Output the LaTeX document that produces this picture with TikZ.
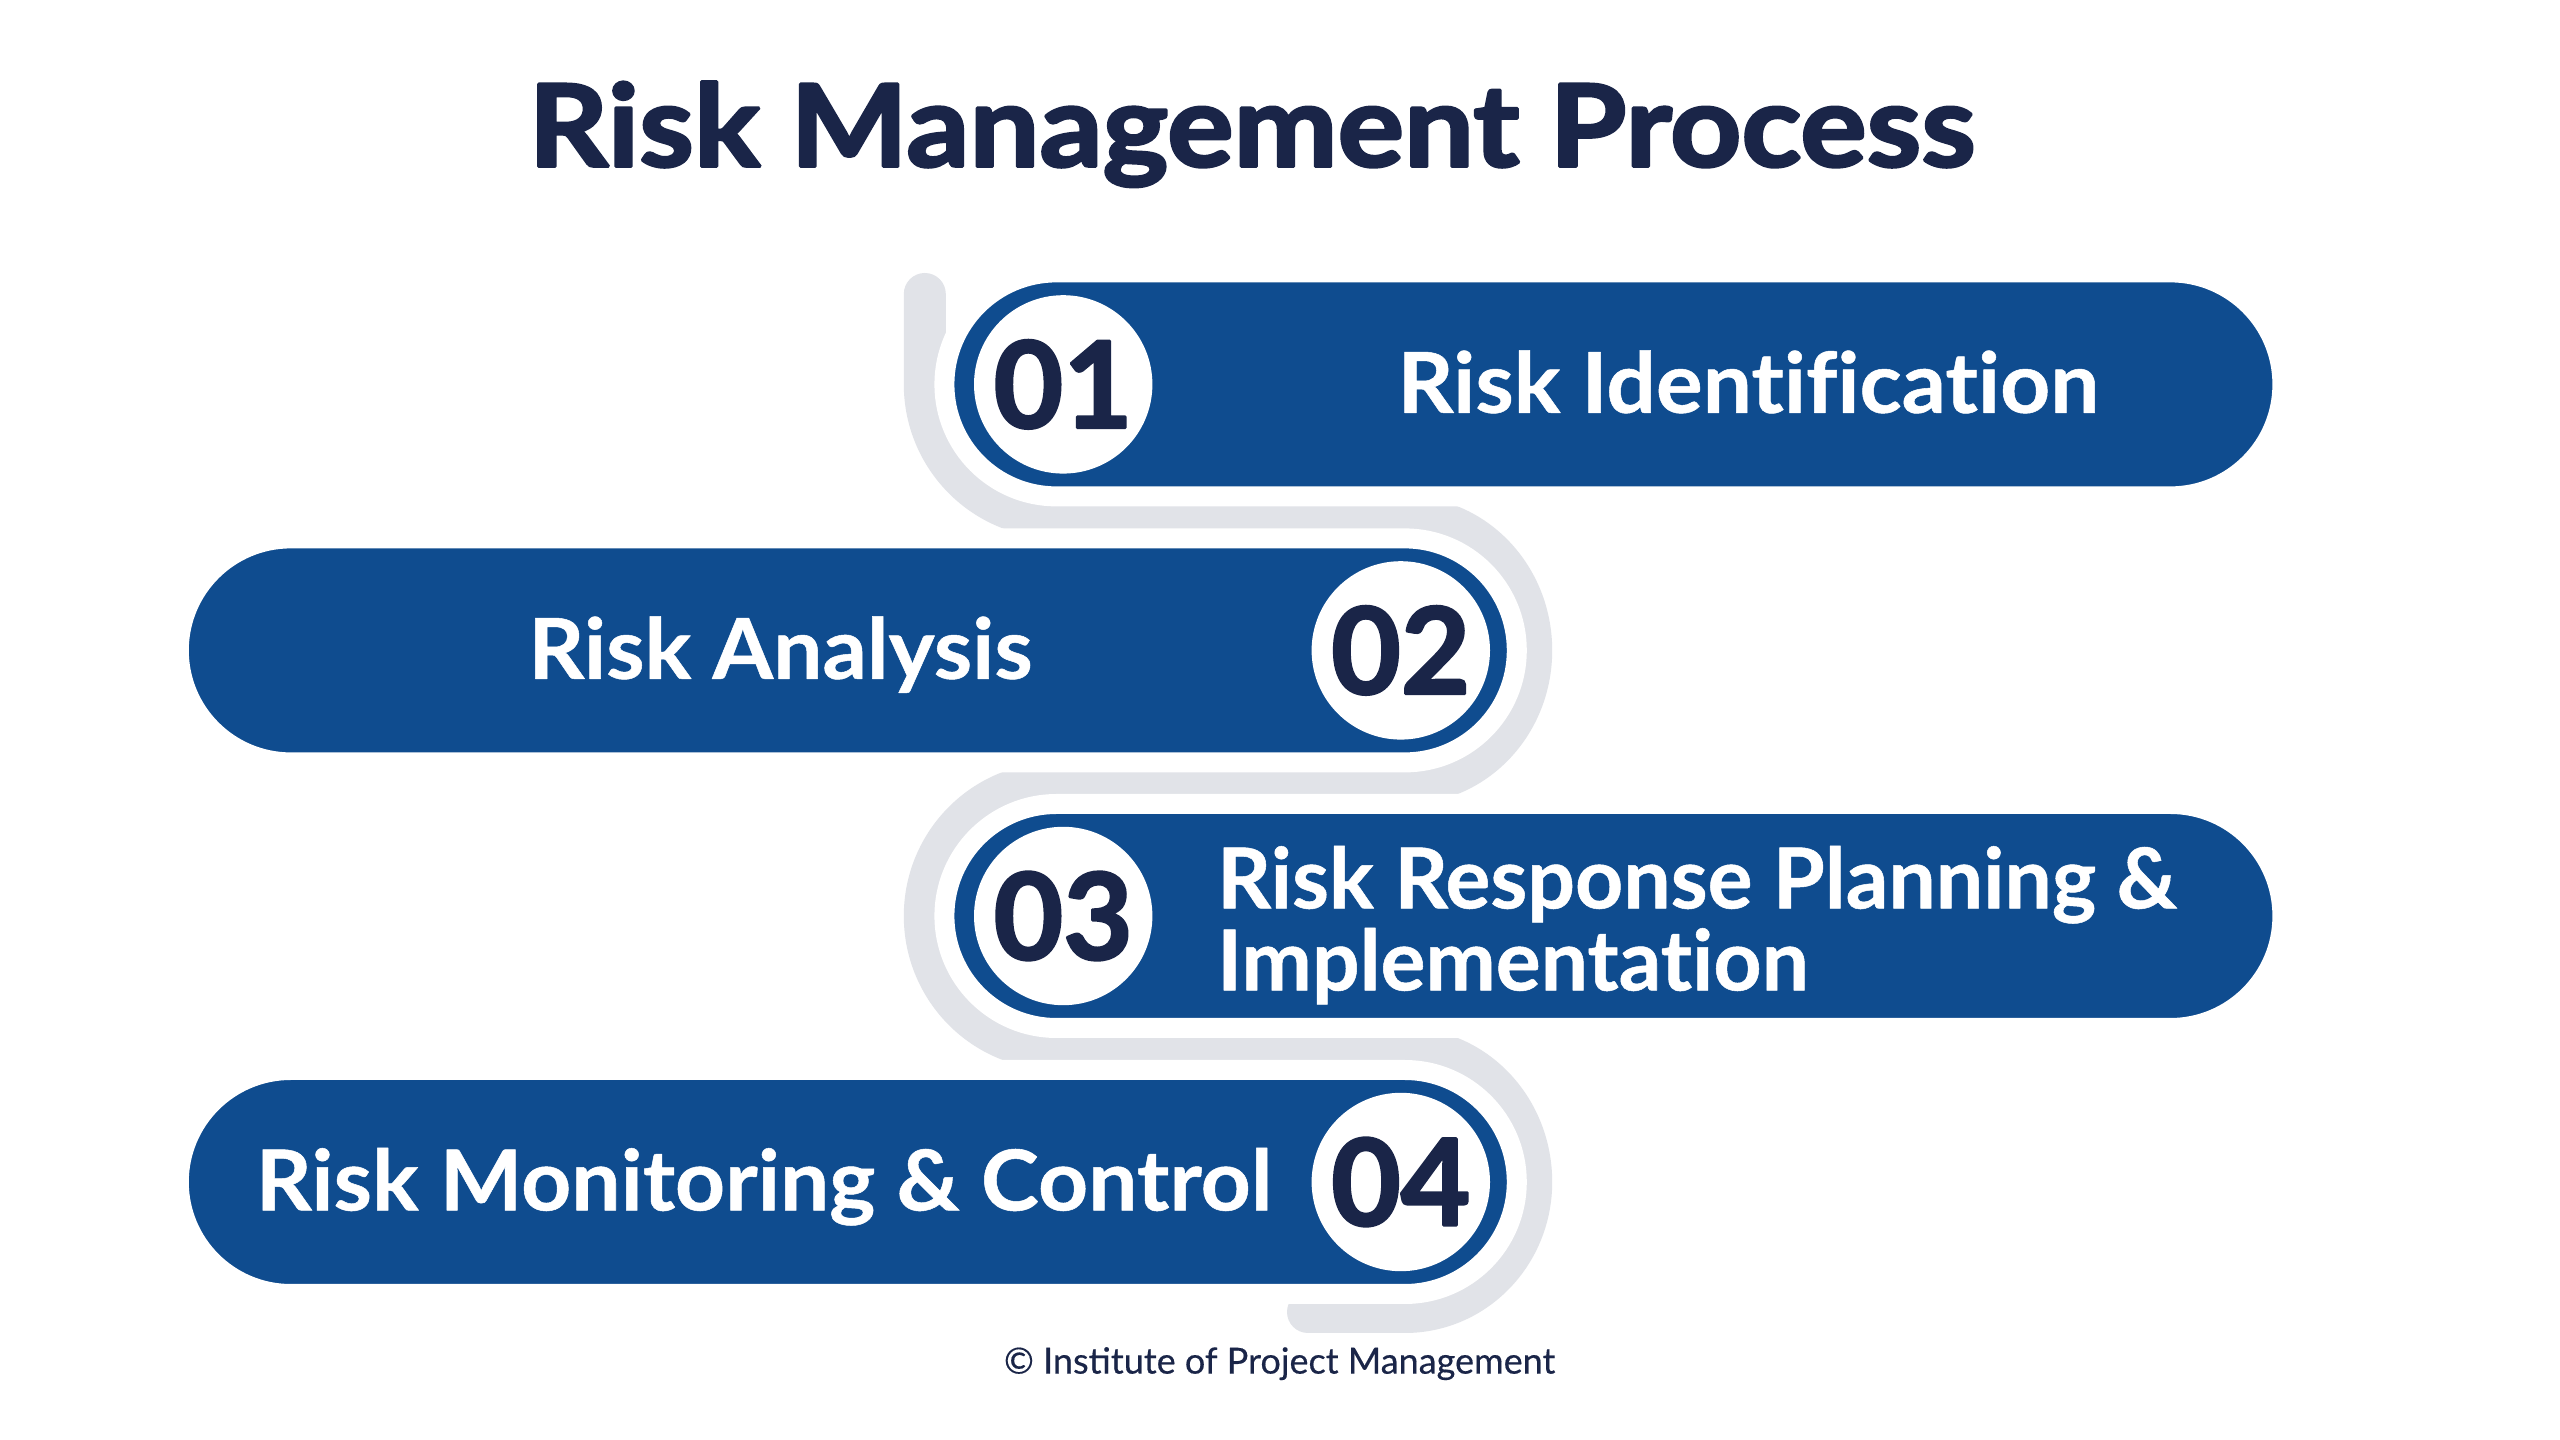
\documentclass[tikz,border=0pt]{standalone}
\usepackage{fontspec}
\setmainfont{Lato}[Ligatures=NoCommon]
\newfontfamily\titlefont{Lato}[Ligatures=NoCommon, FakeBold=2.6, FakeStretch=1.09]
\newfontfamily\stepfont{Lato}[Ligatures=NoCommon, FakeBold=0.6, FakeStretch=1.04]
\newfontfamily\steptightfont{Lato}[Ligatures=NoCommon, FakeBold=0.6]
\newfontfamily\numfont{Lato}[FakeBold=2.2]
\newfontfamily\footfont{Lato}[FakeBold=0.4]
\usetikzlibrary{shapes.misc}
\definecolor{barblue}{HTML}{0F4C8F}
\definecolor{trackgray}{HTML}{E1E3E8}
\definecolor{navy}{HTML}{1A2548}

\begin{document}
\begin{tikzpicture}[line join=bevel,
  bar/.style={rounded rectangle, fill=barblue, draw=white, line width=5bp, minimum width=334.5bp, minimum height=56bp, inner sep=0pt},
  stepnum/.style={circle, fill=white, draw=none, minimum size=44.6bp, inner sep=0pt, text=navy, font=\numfont\bfseries\fontsize{30bp}{30bp}\selectfont},
  steptext/.style={text=white, inner sep=0pt, font=\stepfont\bfseries\fontsize{21bp}{20.5bp}\selectfont},
  track/.style={draw=trackgray, line width=10.5bp, line cap=round},
]
%%
\useasboundingbox [fill=white] (0bp,0bp) rectangle (640bp,360bp);
\node (title) at (313bp,318.4bp) [anchor=base, inner sep=0pt, text=navy, font=\titlefont\bfseries\fontsize{28.5bp}{28.5bp}\selectfont] {Risk Management Process};
%
\draw [track] (231.2bp,286.5bp) -- (231.2bp,263.9bp) ..controls (231.2bp,245.6bp) and (246bp,230.7bp) .. (264.1bp,230.7bp)
  -- (351.2bp,230.7bp) ..controls (368.7bp,230.7bp) and (382.8bp,215.8bp) .. (382.8bp,197.4bp) ..controls (382.8bp,179bp) and (368.7bp,164.2bp) .. (351.2bp,164.2bp)
  -- (264.1bp,164.2bp) ..controls (246bp,164.2bp) and (231.2bp,149.4bp) .. (231.2bp,131bp) ..controls (231.2bp,112.6bp) and (246bp,97.8bp) .. (264.1bp,97.8bp)
  -- (351.2bp,97.8bp) ..controls (368.7bp,97.8bp) and (382.8bp,82.9bp) .. (382.8bp,64.5bp) ..controls (382.8bp,46.5bp) and (368.7bp,32bp) .. (351.2bp,32bp) -- (327bp,32bp);
%
  \node (bar_1) at (403.35bp,263.9bp) [bar] {};
  \node (bar_2) at (211.95bp,197.4bp) [bar] {};
  \node (bar_3) at (403.35bp,131bp) [bar] {};
  \node (bar_4) at (211.95bp,64.5bp) [bar] {};
  \node (num_1) at (265.8bp,263.9bp) [stepnum] {01};
  \node (num_2) at (350.2bp,197.4bp) [stepnum] {02};
  \node (num_3) at (265.8bp,131bp) [stepnum] {03};
  \node (num_4) at (350.2bp,64.5bp) [stepnum] {04};
  \node (text_1) at (437.1bp,256.8bp) [steptext, anchor=base] {Risk Identification};
  \node (text_2) at (195.1bp,190.3bp) [steptext, anchor=base] {Risk Analysis};
  \node (text_3) at (304.1bp,112.4bp) [steptext, anchor=base west, align=left, font=\steptightfont\bfseries\fontsize{21bp}{20.5bp}\selectfont] {Risk Response Planning \&\\Implementation};
  \node (text_4) at (191bp,57.4bp) [steptext, anchor=base] {Risk Monitoring \& Control};
%
\node (footer) at (319.9bp,16.6bp) [anchor=base, inner sep=0pt, text=navy, font=\footfont\fontsize{9bp}{9bp}\selectfont] {© Institute of Project Management};
%
\end{tikzpicture}
\end{document}
